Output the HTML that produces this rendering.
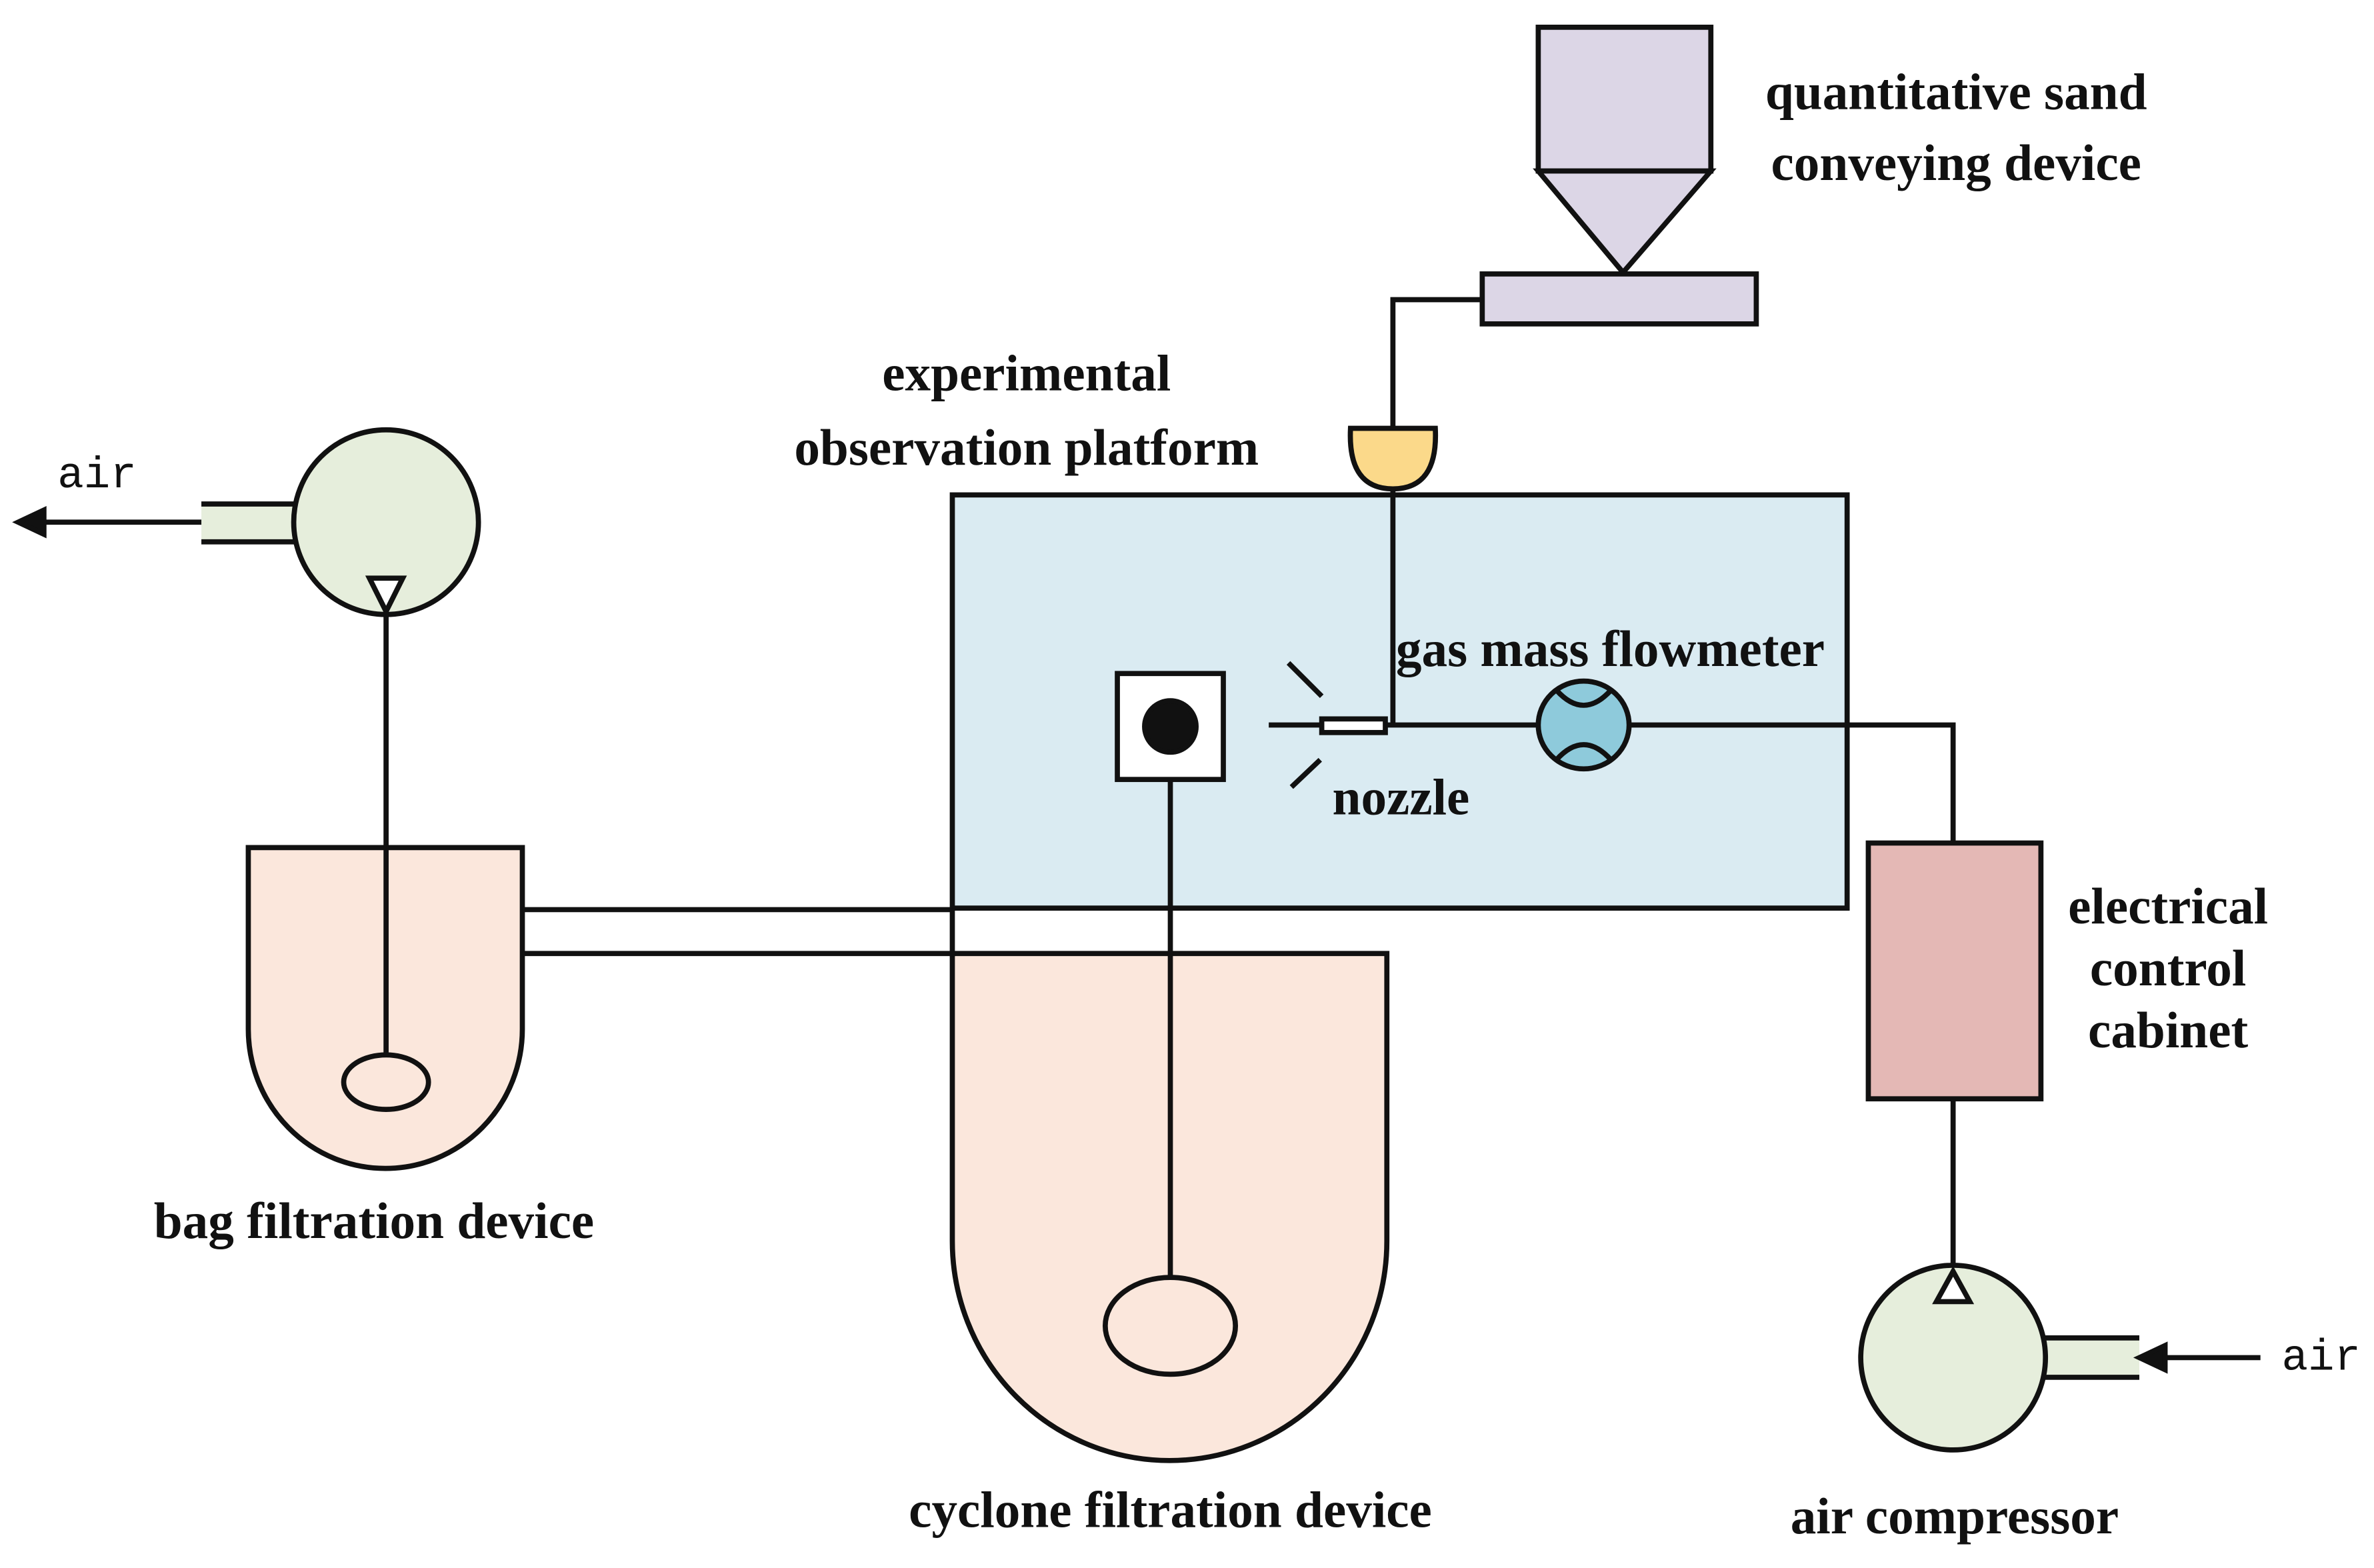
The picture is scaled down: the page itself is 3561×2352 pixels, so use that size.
<!DOCTYPE html>
<html><head><meta charset="utf-8"><style>
html,body{margin:0;padding:0;background:#fff;}
svg{display:block;}
text{font-family:"Liberation Serif",serif;font-weight:bold;font-size:34px;fill:#111;}
.m{font-family:"Liberation Mono",monospace;font-weight:normal;font-size:29px;}
</style></head><body>
<svg width="3561" height="2352" viewBox="0 0 1568 1036" preserveAspectRatio="none" xmlns="http://www.w3.org/2000/svg">
<g stroke="#111" stroke-width="3.4" fill="none" stroke-linejoin="miter">
<!-- hopper -->
<rect x="1016" y="18" width="114" height="95" fill="#dcd6e6"/>
<polygon points="1016,113 1130,113 1072,180" fill="#dcd6e6"/>
<rect x="979" y="181" width="181" height="33" fill="#dcd6e6"/>
<polyline points="979,198 920,198 920,283"/>
<!-- platform -->
<rect x="629" y="327" width="591" height="273" fill="#daebf2"/>
<!-- cup -->
<path d="M892,283 H948 Q950,323 920,323 Q890,323 892,283 Z" fill="#fbd98a"/>
<line x1="920" y1="323" x2="920" y2="479"/>
<!-- square -->
<rect x="738" y="445" width="70" height="70" fill="#fff"/>
<circle cx="773" cy="480" r="17" fill="#111"/>
<!-- nozzle -->
<line x1="838" y1="479" x2="873" y2="479"/>
<rect x="873" y="475" width="42" height="9" fill="#fff"/>
<line x1="851" y1="438" x2="873" y2="460"/>
<line x1="853" y1="520" x2="872" y2="502"/>
<line x1="915" y1="479" x2="1016" y2="479"/>
<ellipse cx="1046" cy="479" rx="30" ry="29" fill="#8ecadb"/>
<path d="M1028,456 Q1046,476 1064,456"/>
<path d="M1028,502 Q1046,482 1064,502"/>
<polyline points="1076,479 1290,479 1290,557"/>
<!-- cabinet -->
<rect x="1234" y="557" width="114" height="169" fill="#e4b8b5"/>
<line x1="1290" y1="726" x2="1290" y2="840"/>
<!-- compressor -->
<rect x="1348" y="884" width="65" height="26" fill="#e6eedc" stroke="none"/>
<line x1="1348" y1="884" x2="1413" y2="884"/>
<line x1="1348" y1="910" x2="1413" y2="910"/>
<circle cx="1290" cy="897" r="61" fill="#e6eedc"/>
<polygon points="1279,860 1301,860 1290,840" fill="#fff"/>
<line x1="1493" y1="897" x2="1425" y2="897"/>
<polygon points="1413,897 1430,889 1430,905" fill="#111"/>
<!-- bag -->
<path d="M164,560 H345 V680 A90.5,92 0 0 1 164,680 Z" fill="#fbe7dc"/>
<ellipse cx="255" cy="715" rx="28" ry="18" fill="#fbe7dc"/>
<line x1="345" y1="601" x2="629" y2="601"/>
<line x1="345" y1="630" x2="629" y2="630"/>
<!-- left fan -->
<rect x="133" y="333" width="65" height="25" fill="#e6eedc" stroke="none"/>
<line x1="133" y1="333" x2="198" y2="333"/>
<line x1="133" y1="358" x2="198" y2="358"/>
<circle cx="255" cy="345" r="61" fill="#e6eedc"/>
<polygon points="244,382 266,382 255,404" fill="#fff"/>
<line x1="133" y1="345" x2="24" y2="345"/>
<polygon points="12,345 29,337 29,353" fill="#111"/>
<line x1="255" y1="404" x2="255" y2="697"/>
<!-- cyclone -->
<path d="M629,630 H916 V820 A143.5,145 0 0 1 629,820 Z" fill="#fbe7dc"/>
<line x1="629" y1="600" x2="629" y2="632"/>
<line x1="773" y1="515" x2="773" y2="843"/>
<ellipse cx="773" cy="876" rx="43" ry="32" fill="#fbe7dc"/>
</g>
<text x="1292" y="72" text-anchor="middle">quantitative sand</text>
<text x="1292" y="119" text-anchor="middle">conveying device</text>
<text x="678" y="258" text-anchor="middle">experimental</text>
<text x="678" y="307" text-anchor="middle">observation platform</text>
<text x="922" y="440">gas mass flowmeter</text>
<text x="880" y="538">nozzle</text>
<text x="1432" y="610" text-anchor="middle">electrical</text>
<text x="1432" y="651" text-anchor="middle">control</text>
<text x="1432" y="692" text-anchor="middle">cabinet</text>
<text x="247" y="818" text-anchor="middle">bag filtration device</text>
<text x="773" y="1009" text-anchor="middle">cyclone filtration device</text>
<text x="1291" y="1013" text-anchor="middle">air compressor</text>
<text class="m" x="38" y="322">air</text>
<text class="m" x="1507" y="905">air</text>
</svg>
</body></html>
